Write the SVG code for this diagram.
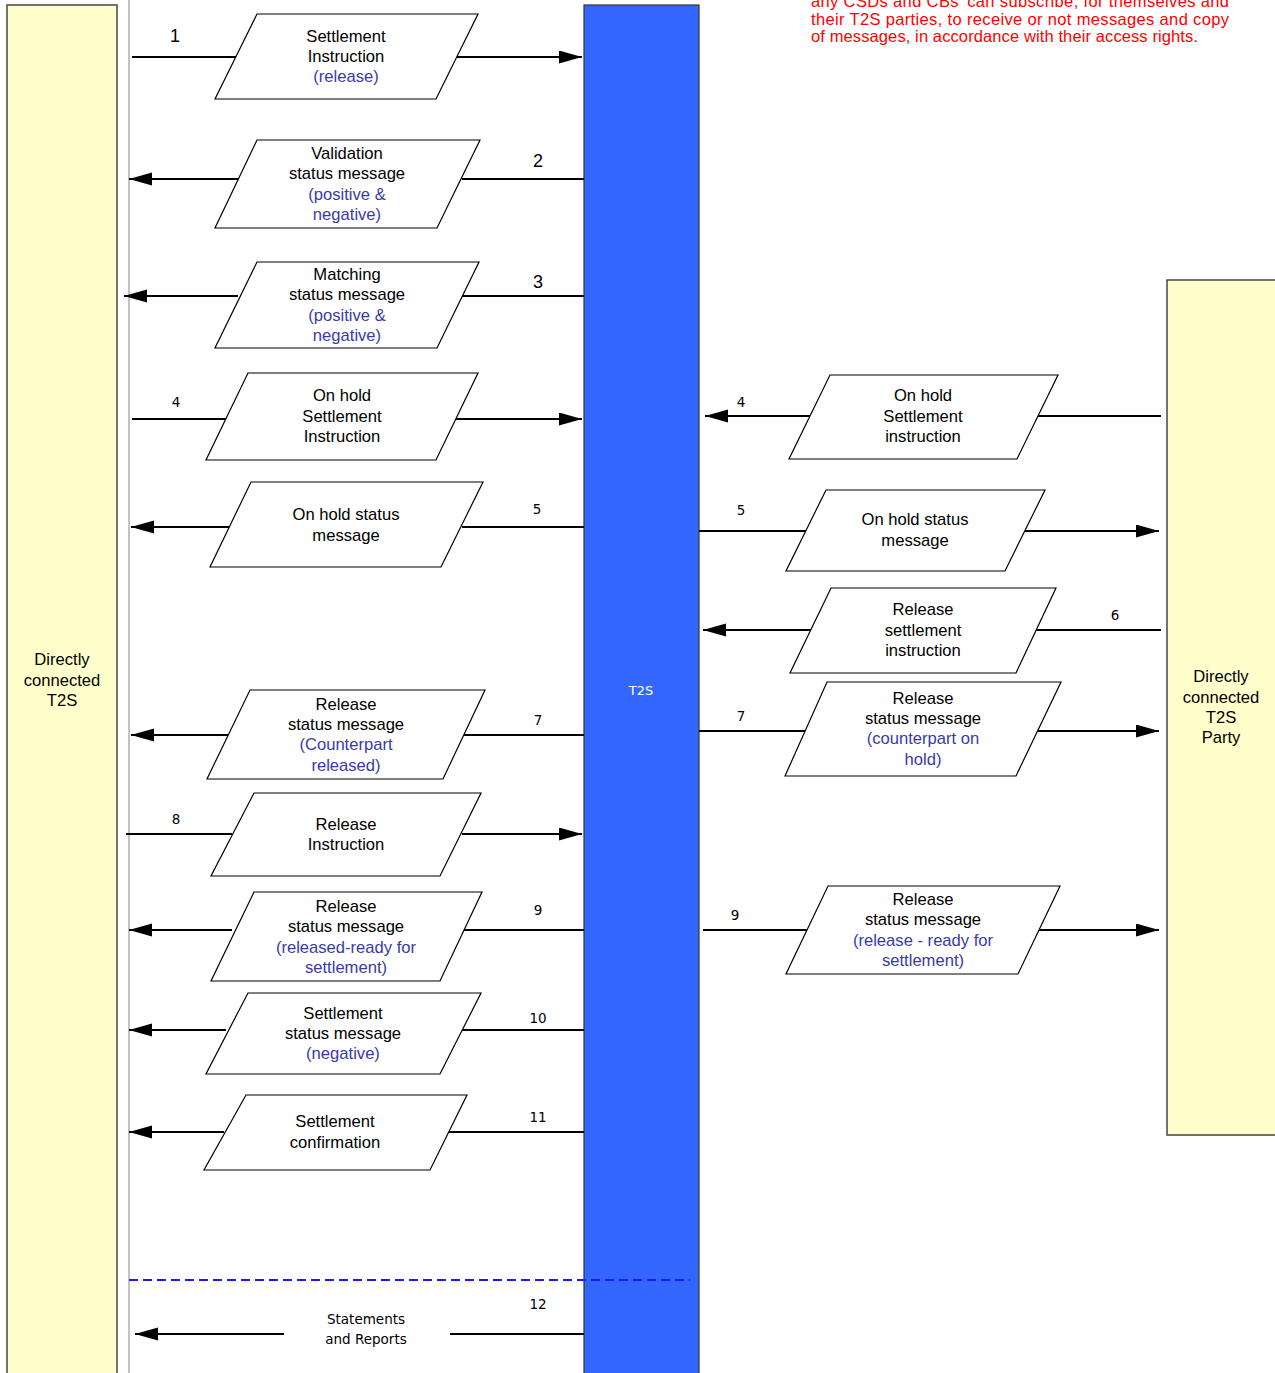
<svg xmlns="http://www.w3.org/2000/svg" width="1275" height="1373" viewBox="0 0 1275 1373">
<style>
.t{font-family:"Liberation Sans",Arial,sans-serif;font-size:16.6px;fill:#000;text-anchor:middle}
.b{fill:#3a3aa8}
.n{font-family:"DejaVu Sans",sans-serif;font-size:13.5px;fill:#000;text-anchor:middle}
.nb{font-family:"Liberation Sans",Arial,sans-serif;font-size:18px;fill:#000;text-anchor:middle}
.p{fill:#fff;stroke:#000;stroke-width:1.2}
.c{stroke:#000;stroke-width:2;fill:none}
.y{fill:#ffffcc;stroke:#444;stroke-width:1.5}
.red{font-family:"Liberation Sans",Arial,sans-serif;font-size:16.5px;fill:#ff0000}
</style>
<defs>
<marker id="ah" markerUnits="userSpaceOnUse" markerWidth="26" markerHeight="14" refX="23" refY="6.5" orient="auto">
<path d="M0,0 L23,6.5 L0,13 Z" fill="#000"/>
</marker>
</defs>
<rect width="1275" height="1373" fill="#fff"/>

<g id="left-party">
<rect class="y" x="7" y="5" width="110" height="1380"/>
<text class="t" x="62" y="665">Directly</text>
<text class="t" x="62" y="686">connected</text>
<text class="t" x="62" y="706">T2S</text>
</g>
<line x1="129" y1="0" x2="129" y2="1373" stroke="#999" stroke-width="1.2"/>

<g id="t2s">
<rect x="584" y="5" width="115" height="1380" fill="#3366ff" stroke="#333" stroke-width="1.2"/>
<text x="641" y="695" font-family="DejaVu Sans,sans-serif" font-size="13" fill="#fff" text-anchor="middle">T2S</text>
</g>

<g id="right-party">
<rect class="y" x="1167" y="280" width="120" height="855"/>
<text class="t" x="1221" y="682">Directly</text>
<text class="t" x="1221" y="703">connected</text>
<text class="t" x="1221" y="723">T2S</text>
<text class="t" x="1221" y="743">Party</text>
</g>

<g id="note">
<text class="red" x="811" y="7" textLength="418" lengthAdjust="spacing">any CSDs and CBs’ can subscribe, for themselves and</text>
<text class="red" x="811" y="25" textLength="418" lengthAdjust="spacing">their T2S parties, to receive or not messages and copy</text>
<text class="red" x="811" y="42" textLength="387" lengthAdjust="spacing">of messages, in accordance with their access rights.</text>
</g>

<g id="connectors">
<line class="c" x1="132" y1="57" x2="237" y2="57"/>
<line class="c" x1="455" y1="57" x2="582" y2="57" marker-end="url(#ah)"/>
<line class="c" x1="584" y1="179" x2="462" y2="179"/>
<line class="c" x1="238" y1="179" x2="129" y2="179" marker-end="url(#ah)"/>
<line class="c" x1="584" y1="296" x2="462" y2="296"/>
<line class="c" x1="238" y1="296" x2="124" y2="296" marker-end="url(#ah)"/>
<line class="c" x1="132" y1="419" x2="227" y2="419"/>
<line class="c" x1="455" y1="419" x2="582" y2="419" marker-end="url(#ah)"/>
<line class="c" x1="584" y1="527" x2="462" y2="527"/>
<line class="c" x1="230" y1="527" x2="131" y2="527" marker-end="url(#ah)"/>
<line class="c" x1="584" y1="735" x2="464" y2="735"/>
<line class="c" x1="229" y1="735" x2="131" y2="735" marker-end="url(#ah)"/>
<line class="c" x1="126" y1="834" x2="232" y2="834"/>
<line class="c" x1="462" y1="834" x2="582" y2="834" marker-end="url(#ah)"/>
<line class="c" x1="584" y1="930" x2="463" y2="930"/>
<line class="c" x1="232" y1="930" x2="129" y2="930" marker-end="url(#ah)"/>
<line class="c" x1="584" y1="1030" x2="462" y2="1030"/>
<line class="c" x1="226" y1="1030" x2="129" y2="1030" marker-end="url(#ah)"/>
<line class="c" x1="584" y1="1132" x2="449" y2="1132"/>
<line class="c" x1="224" y1="1132" x2="129" y2="1132" marker-end="url(#ah)"/>
<line class="c" x1="584" y1="1334" x2="450" y2="1334"/>
<line class="c" x1="284" y1="1334" x2="135" y2="1334" marker-end="url(#ah)"/>

<line class="c" x1="1161" y1="416" x2="1038" y2="416"/>
<line class="c" x1="810" y1="416" x2="705" y2="416" marker-end="url(#ah)"/>
<line class="c" x1="699" y1="531" x2="806" y2="531"/>
<line class="c" x1="1025" y1="531" x2="1159" y2="531" marker-end="url(#ah)"/>
<line class="c" x1="1161" y1="630" x2="1036" y2="630"/>
<line class="c" x1="811" y1="630" x2="703" y2="630" marker-end="url(#ah)"/>
<line class="c" x1="699" y1="731" x2="806" y2="731"/>
<line class="c" x1="1038" y1="731" x2="1159" y2="731" marker-end="url(#ah)"/>
<line class="c" x1="703" y1="930" x2="808" y2="930"/>
<line class="c" x1="1039" y1="930" x2="1159" y2="930" marker-end="url(#ah)"/>

<line x1="129" y1="1280" x2="690" y2="1280" stroke="#1a1aff" stroke-width="2" stroke-dasharray="9,5"/>

<text class="nb" x="175" y="42" font-size="16">1</text>
<text class="nb" x="538" y="167">2</text>
<text class="nb" x="538" y="288">3</text>
<text class="n" x="176" y="407">4</text>
<text class="n" x="537" y="514">5</text>
<text class="n" x="538" y="725">7</text>
<text class="n" x="176" y="824">8</text>
<text class="n" x="538" y="915">9</text>
<text class="n" x="538" y="1023">10</text>
<text class="n" x="538" y="1122">11</text>
<text class="n" x="538" y="1309">12</text>
<text class="n" x="741" y="407">4</text>
<text class="n" x="741" y="515">5</text>
<text class="n" x="1115" y="620">6</text>
<text class="n" x="741" y="721">7</text>
<text class="n" x="735" y="920">9</text>
<text class="n" x="366" y="1324" font-size="14.5">Statements</text>
<text class="n" x="366" y="1344" font-size="14.5">and Reports</text>
</g>

<g id="m1">
<polygon class="p" points="257,14 478,14 436,99 215,99"/>
<text class="t" x="346" y="42">Settlement</text>
<text class="t" x="346" y="62">Instruction</text>
<text class="t b" x="346" y="82">(release)</text>
</g>
<g id="m2">
<polygon class="p" points="257,140 480,140 437,228 215,228"/>
<text class="t" x="347" y="159">Validation</text>
<text class="t" x="347" y="179">status message</text>
<text class="t b" x="347" y="200">(positive &amp;</text>
<text class="t b" x="347" y="220">negative)</text>
</g>
<g id="m3">
<polygon class="p" points="257,262 479,262 437,348 215,348"/>
<text class="t" x="347" y="280">Matching</text>
<text class="t" x="347" y="300">status message</text>
<text class="t b" x="347" y="321">(positive &amp;</text>
<text class="t b" x="347" y="341">negative)</text>
</g>
<g id="m4l">
<polygon class="p" points="248,373 478,373 436,460 206,460"/>
<text class="t" x="342" y="401">On hold</text>
<text class="t" x="342" y="422">Settlement</text>
<text class="t" x="342" y="442">Instruction</text>
</g>
<g id="m5l">
<polygon class="p" points="251,482 483,482 441,567 210,567"/>
<text class="t" x="346" y="520">On hold status</text>
<text class="t" x="346" y="541">message</text>
</g>
<g id="m7l">
<polygon class="p" points="250,690 485,690 443,779 207,779"/>
<text class="t" x="346" y="710">Release</text>
<text class="t" x="346" y="730">status message</text>
<text class="t b" x="346" y="750">(Counterpart</text>
<text class="t b" x="346" y="771">released)</text>
</g>
<g id="m8l">
<polygon class="p" points="254,793 481,793 440,876 211,876"/>
<text class="t" x="346" y="830">Release</text>
<text class="t" x="346" y="850">Instruction</text>
</g>
<g id="m9l">
<polygon class="p" points="254,892 482,892 440,981 211,981"/>
<text class="t" x="346" y="912">Release</text>
<text class="t" x="346" y="932">status message</text>
<text class="t b" x="346" y="953">(released-ready for</text>
<text class="t b" x="346" y="973">settlement)</text>
</g>
<g id="m10l">
<polygon class="p" points="248,993 481,993 440,1074 206,1074"/>
<text class="t" x="343" y="1019">Settlement</text>
<text class="t" x="343" y="1039">status message</text>
<text class="t b" x="343" y="1059">(negative)</text>
</g>
<g id="m11l">
<polygon class="p" points="246,1095 467,1095 430,1170 204,1170"/>
<text class="t" x="335" y="1127">Settlement</text>
<text class="t" x="335" y="1148">confirmation</text>
</g>

<g id="m4r">
<polygon class="p" points="830,375 1058,375 1017,459 789,459"/>
<text class="t" x="923" y="401">On hold</text>
<text class="t" x="923" y="422">Settlement</text>
<text class="t" x="923" y="442">instruction</text>
</g>
<g id="m5r">
<polygon class="p" points="826,490 1045,490 1005,571 786,571"/>
<text class="t" x="915" y="525">On hold status</text>
<text class="t" x="915" y="546">message</text>
</g>
<g id="m6r">
<polygon class="p" points="831,588 1056,588 1016,673 790,673"/>
<text class="t" x="923" y="615">Release</text>
<text class="t" x="923" y="636">settlement</text>
<text class="t" x="923" y="656">instruction</text>
</g>
<g id="m7r">
<polygon class="p" points="827,682 1061,682 1016,776 785,776"/>
<text class="t" x="923" y="704">Release</text>
<text class="t" x="923" y="724">status message</text>
<text class="t b" x="923" y="744">(counterpart on</text>
<text class="t b" x="923" y="765">hold)</text>
</g>
<g id="m9r">
<polygon class="p" points="828,886 1060,886 1018,974 786,974"/>
<text class="t" x="923" y="905">Release</text>
<text class="t" x="923" y="925">status message</text>
<text class="t b" x="923" y="946">(release - ready for</text>
<text class="t b" x="923" y="966">settlement)</text>
</g>
</svg>
